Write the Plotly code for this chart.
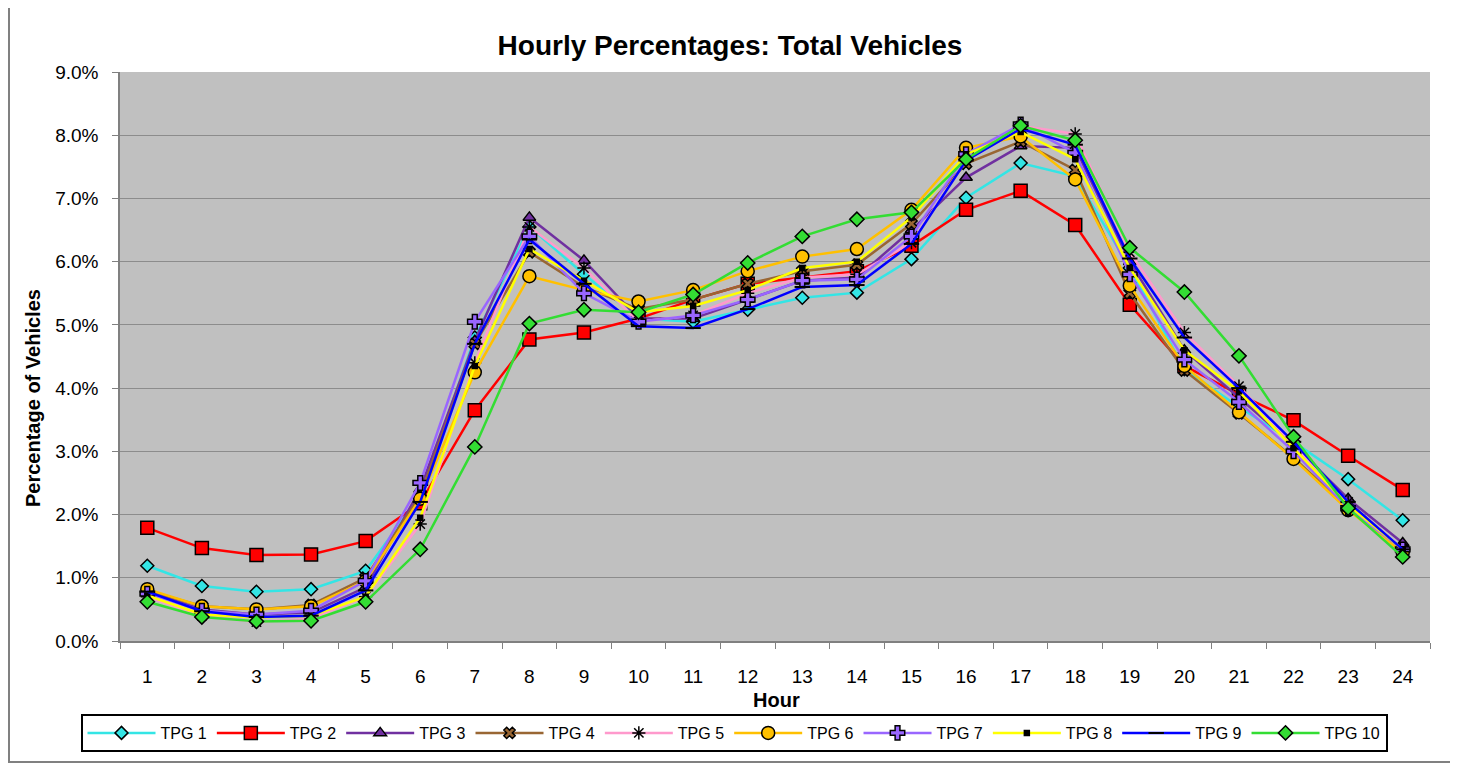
import plotly.graph_objects as go

hours = [str(h) for h in range(1, 25)]

tpg1 = [1.19, 0.87, 0.78, 0.82, 1.11, 2.30, 4.80, 6.55, 5.80, 5.10, 5.05, 5.24, 5.43, 5.51, 6.04, 7.01, 7.56, 7.35, 5.90, 4.30, 3.70, 3.15, 2.56, 1.91]
tpg2 = [1.79, 1.47, 1.36, 1.37, 1.58, 2.18, 3.65, 4.77, 4.88, 5.10, 5.40, 5.65, 5.75, 5.85, 6.25, 6.82, 7.12, 6.58, 5.32, 4.35, 3.90, 3.49, 2.93, 2.39]
tpg3 = [0.78, 0.50, 0.42, 0.45, 0.85, 2.40, 4.75, 6.70, 6.02, 5.10, 5.10, 5.40, 5.70, 5.75, 6.50, 7.33, 7.83, 7.80, 6.00, 4.60, 3.85, 3.10, 2.25, 1.55]
tpg4 = [0.80, 0.55, 0.50, 0.57, 1.00, 2.30, 4.70, 6.15, 5.60, 5.25, 5.40, 5.65, 5.85, 5.95, 6.60, 7.55, 7.90, 7.45, 5.50, 4.28, 3.60, 2.90, 2.10, 1.45]
tpg5 = [0.70, 0.40, 0.30, 0.35, 0.70, 1.85, 4.40, 6.55, 5.90, 5.05, 5.15, 5.50, 5.75, 5.80, 6.30, 7.60, 8.15, 8.02, 6.15, 4.88, 4.03, 3.10, 2.20, 1.45]
tpg6 = [0.82, 0.55, 0.50, 0.55, 0.95, 2.25, 4.25, 5.77, 5.55, 5.37, 5.55, 5.85, 6.08, 6.20, 6.82, 7.80, 7.98, 7.30, 5.62, 4.35, 3.62, 2.88, 2.07, 1.40]
tpg7 = [0.75, 0.48, 0.42, 0.48, 0.95, 2.50, 5.05, 6.40, 5.50, 5.05, 5.15, 5.40, 5.70, 5.72, 6.40, 7.70, 8.17, 7.72, 5.80, 4.45, 3.78, 3.00, 2.10, 1.45]
tpg8 = [0.72, 0.42, 0.37, 0.40, 0.70, 1.95, 4.35, 6.20, 5.70, 5.20, 5.30, 5.55, 5.90, 6.00, 6.70, 7.70, 8.05, 7.62, 5.90, 4.60, 3.95, 3.05, 2.15, 1.45]
tpg9 = [0.78, 0.47, 0.38, 0.40, 0.80, 2.20, 4.70, 6.35, 5.65, 4.98, 4.95, 5.25, 5.60, 5.63, 6.28, 7.60, 8.10, 7.85, 6.05, 4.80, 4.00, 3.15, 2.20, 1.45]
tpg10 = [0.62, 0.38, 0.31, 0.32, 0.62, 1.45, 3.07, 5.02, 5.24, 5.20, 5.48, 5.98, 6.40, 6.67, 6.78, 7.62, 8.15, 7.92, 6.22, 5.52, 4.51, 3.23, 2.10, 1.33]

y_ticks = [0, 1, 2, 3, 4, 5, 6, 7, 8, 9]
y_labels = ["%.1f%%" % v for v in y_ticks]

series = [
    ("TPG 1", tpg1, "#33E5E5", "diamond", 10, "#33E5E5"),
    ("TPG 2", tpg2, "#FF0000", "square", 13, "#FF0000"),
    ("TPG 3", tpg3, "#7030A0", "triangle-up", 11, "#7030A0"),
    ("TPG 4", tpg4, "#996633", "x", 10, "#996633"),
    ("TPG 5", tpg5, "#FF99CC", "asterisk-open", 11, "#000000"),
    ("TPG 6", tpg6, "#FFC000", "circle", 13, "#FFC000"),
    ("TPG 7", tpg7, "#9966FF", "cross", 12, "#9966FF"),
    ("TPG 8", tpg8, "#FFFF00", "square", 5, "#000000"),
    ("TPG 9", tpg9, "#0000FF", "line-ew-open", 11, "#000000"),
    ("TPG 10", tpg10, "#33DD33", "diamond", 11, "#33DD33"),
]

fig = go.Figure()
for name, vals, col, sym, size, fill in series:
    if sym in ("asterisk-open", "line-ew-open"):
        marker = dict(symbol=sym, size=size, color="#000000",
                      line=dict(color="#000000", width=2 if sym == "line-ew-open" else 1.5))
    else:
        marker = dict(symbol=sym, size=size, color=fill, line=dict(color="#000000", width=1.5))
    fig.add_trace(go.Scatter(
        x=hours, y=vals, name=name, mode="lines+markers",
        line=dict(color=col, width=2.5), marker=marker,
    ))

# page offset of 8px (body margin) compensated in margins
L, R, T, B = 112, 36, 64, 132
PW, PH = 1458 - L - R, 765 - T - B


def px(xpage):
    return (xpage - 8 - L) / PW


def py(ypage):
    return (765 - B - (ypage - 8)) / PH


fig.update_layout(
    width=1458, height=765,
    paper_bgcolor="white", plot_bgcolor="#C0C0C0",
    margin=dict(l=L, r=R, t=T, b=B, autoexpand=False),
    font=dict(family="Liberation Sans, Arial, sans-serif", size=19, color="black"),
    title=dict(text="<b>Hourly Percentages: Total Vehicles</b>", x=722 / 1458, xanchor="center",
               xref="container", yref="container", y=1 - 37 / 765, yanchor="middle",
               font=dict(size=28)),
    showlegend=True,
    legend=dict(orientation="h", x=px(734), xanchor="center", y=py(714), yanchor="top",
                bordercolor="black", borderwidth=2, font=dict(size=16),
                itemwidth=68, tracegroupgap=0, bgcolor="white"),
    xaxis=dict(type="category", range=[-0.5, 23.5], automargin=False,
               tickson="boundaries", ticks="outside", ticklen=6, tickcolor="#808080",
               ticklabelstandoff=17,
               showline=True, linecolor="#808080", linewidth=1.5, showgrid=False,
               tickfont=dict(size=19)),
    yaxis=dict(range=[0, 9], tickvals=y_ticks, ticktext=y_labels, automargin=False,
               ticks="outside", ticklen=6, tickcolor="#808080", ticklabelstandoff=10,
               showline=True, linecolor="#808080", linewidth=1.5,
               showgrid=True, gridcolor="#8C8C8C", gridwidth=1, zeroline=False,
               tickfont=dict(size=19)),
    annotations=[
        dict(text="<b>Hour</b>", xref="paper", yref="paper", x=px(776), y=py(700),
             xanchor="center", yanchor="middle", showarrow=False, font=dict(size=20)),
        dict(text="<b>Percentage of Vehicles</b>", xref="paper", yref="paper", x=px(33), y=py(398),
             xanchor="center", yanchor="middle", showarrow=False, textangle=-90, font=dict(size=20)),
    ],
)

fig.add_shape(type="rect", xref="paper", yref="paper",
              x0=px(9), x1=px(1453),
              y0=py(762), y1=py(5),
              line=dict(color="#808080", width=2), fillcolor="rgba(0,0,0,0)", layer="below")

fig.write_html("out.html")
